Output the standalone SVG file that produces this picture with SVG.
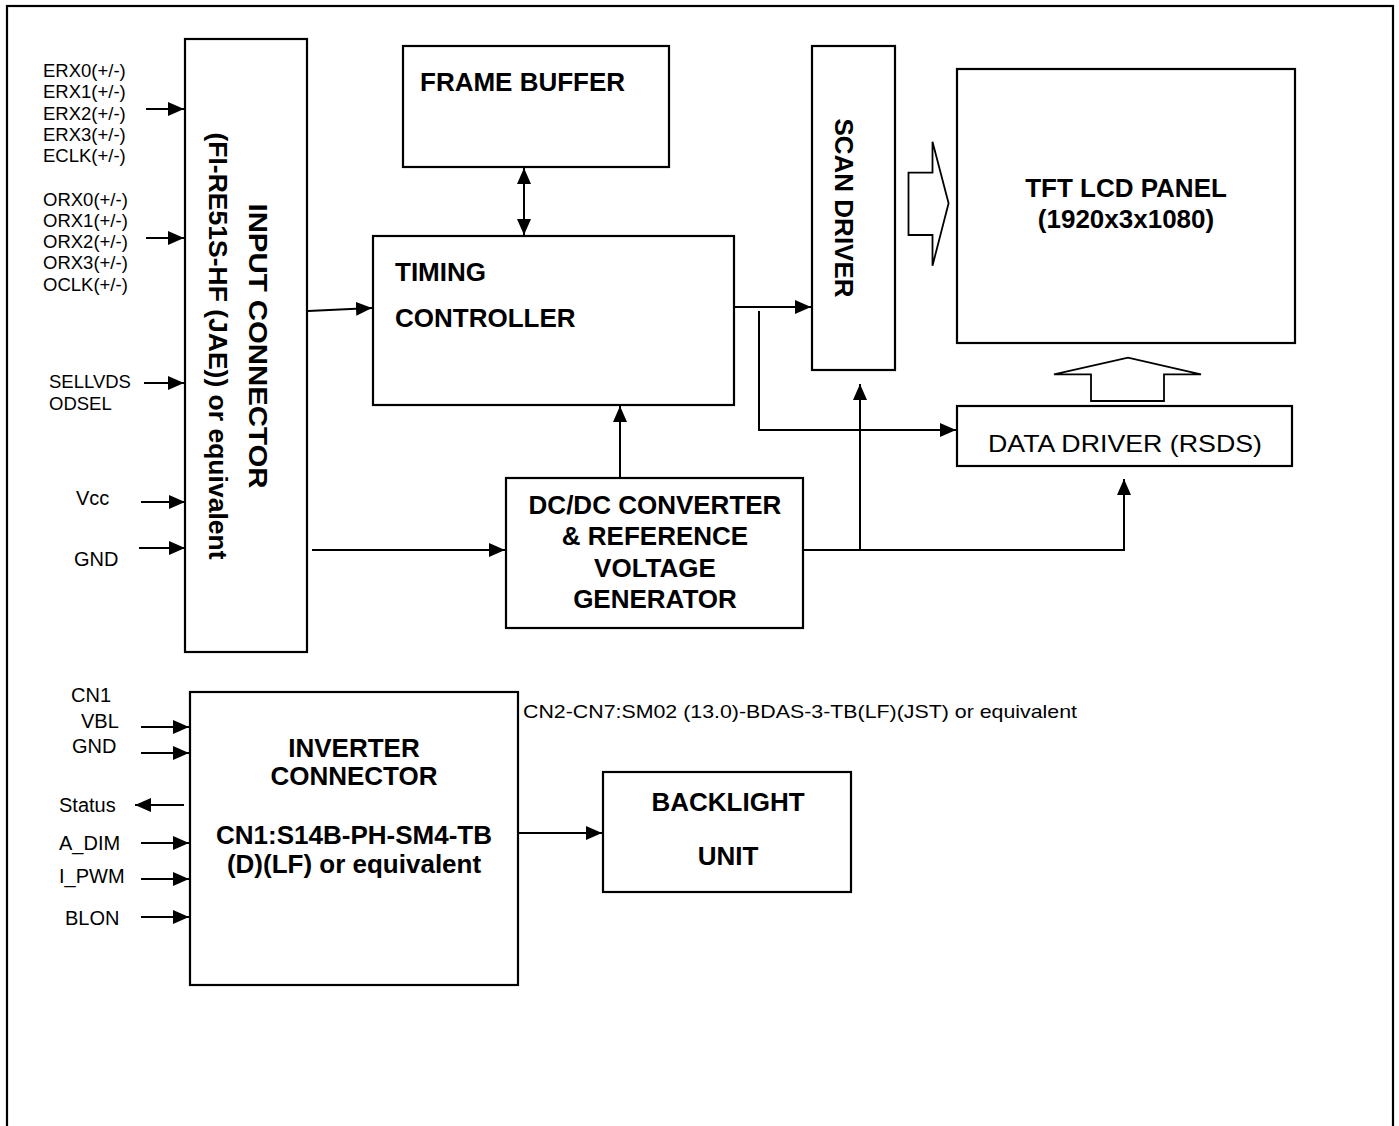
<svg xmlns="http://www.w3.org/2000/svg" width="1399" height="1126" viewBox="0 0 1399 1126">
<style>
.box{fill:#fff;stroke:#000;stroke-width:2.2}
.ln{fill:none;stroke:#000;stroke-width:2}
.ar{marker-end:url(#ah)}
.hol{fill:#fff;stroke:#000;stroke-width:1.8;stroke-linejoin:miter}
text{font-family:"Liberation Sans",Arial,sans-serif;fill:#000}
.b{font-weight:bold;font-size:26px}
.sig{font-size:18.5px}
.sig2{font-size:20px}
.mid{text-anchor:middle}
</style>
<defs>
<marker id="ah" markerUnits="userSpaceOnUse" markerWidth="16" markerHeight="16" viewBox="0 0 16 16" refX="16" refY="8" orient="auto">
<path d="M0,1 L16,8 L0,15 Z" fill="#000"/>
</marker>
<marker id="ahs" markerUnits="userSpaceOnUse" markerWidth="16" markerHeight="16" viewBox="0 0 16 16" refX="16" refY="8" orient="auto-start-reverse">
<path d="M0,1 L16,8 L0,15 Z" fill="#000"/>
</marker>
</defs>
<rect x="0" y="0" width="1399" height="1126" fill="#fff"/>
<rect x="7" y="6" width="1386" height="1140" fill="none" stroke="#000" stroke-width="2.2"/>

<g id="input-connector">
<rect class="box" x="185" y="39" width="122" height="613"/>
<text class="b" transform="translate(249,346) rotate(90)" text-anchor="middle" font-size="29" textLength="285" lengthAdjust="spacingAndGlyphs">INPUT CONNECTOR</text>
<text class="b" transform="translate(209,346) rotate(90)" text-anchor="middle" font-size="29" textLength="427" lengthAdjust="spacingAndGlyphs">(FI-RE51S-HF (JAE)) or equivalent</text>
</g>

<g id="frame-buffer">
<rect class="box" x="403" y="46" width="266" height="121"/>
<text class="b" x="420" y="91" font-size="24">FRAME BUFFER</text>
</g>

<g id="timing-controller">
<rect class="box" x="373" y="236" width="361" height="169"/>
<text class="b" x="395" y="281">TIMING</text>
<text class="b" x="395" y="327">CONTROLLER</text>
</g>

<g id="scan-driver">
<rect class="box" x="812" y="46" width="83" height="324"/>
<text class="b" transform="translate(835,208) rotate(90)" text-anchor="middle">SCAN DRIVER</text>
</g>

<g id="tft-panel">
<rect class="box" x="957" y="69" width="338" height="274"/>
<text class="b mid" x="1126" y="197">TFT LCD PANEL</text>
<text class="b mid" x="1126" y="228">(1920x3x1080)</text>
</g>

<g id="data-driver">
<rect class="box" x="957" y="406" width="335" height="60"/>
<text class="mid" x="1125" y="452" font-size="24" textLength="274" lengthAdjust="spacingAndGlyphs">DATA DRIVER (RSDS)</text>
</g>

<g id="dcdc">
<rect class="box" x="506" y="478" width="297" height="150"/>
<text class="b mid" x="655" y="514">DC/DC CONVERTER</text>
<text class="b mid" x="655" y="545">&amp; REFERENCE</text>
<text class="b mid" x="655" y="577">VOLTAGE</text>
<text class="b mid" x="655" y="608">GENERATOR</text>
</g>

<g id="inverter-connector">
<rect class="box" x="190" y="692" width="328" height="293"/>
<text class="b mid" x="354" y="757">INVERTER</text>
<text class="b mid" x="354" y="785">CONNECTOR</text>
<text class="b mid" x="354" y="844">CN1:S14B-PH-SM4-TB</text>
<text class="b mid" x="354" y="873">(D)(LF) or equivalent</text>
</g>

<g id="backlight">
<rect class="box" x="603" y="772" width="248" height="120"/>
<text class="b mid" x="728" y="811">BACKLIGHT</text>
<text class="b mid" x="728" y="865">UNIT</text>
</g>

<g id="labels">
<text class="sig" x="43" y="77">ERX0(+/-)</text>
<text class="sig" x="43" y="98">ERX1(+/-)</text>
<text class="sig" x="43" y="119.5">ERX2(+/-)</text>
<text class="sig" x="43" y="140.5">ERX3(+/-)</text>
<text class="sig" x="43" y="161.5">ECLK(+/-)</text>
<text class="sig" x="43" y="205.5">ORX0(+/-)</text>
<text class="sig" x="43" y="226.5">ORX1(+/-)</text>
<text class="sig" x="43" y="248">ORX2(+/-)</text>
<text class="sig" x="43" y="269">ORX3(+/-)</text>
<text class="sig" x="43" y="291">OCLK(+/-)</text>
<text class="sig" x="49" y="388">SELLVDS</text>
<text class="sig" x="49" y="410">ODSEL</text>
<text class="sig2" x="76" y="505">Vcc</text>
<text class="sig2" x="74" y="566">GND</text>
<text class="sig2" x="71" y="702">CN1</text>
<text class="sig2" x="81" y="728">VBL</text>
<text class="sig2" x="72" y="753">GND</text>
<text class="sig2" x="59" y="812">Status</text>
<text class="sig2" x="59" y="850">A_DIM</text>
<text class="sig2" x="59" y="883">I_PWM</text>
<text class="sig2" x="65" y="925">BLON</text>
<text x="523" y="718" font-size="19" textLength="554" lengthAdjust="spacingAndGlyphs">CN2-CN7:SM02 (13.0)-BDAS-3-TB(LF)(JST) or equivalent</text>
</g>

<g id="connectors">
<path class="ln ar" d="M146,109 H184"/>
<path class="ln ar" d="M146,238 H184"/>
<path class="ln ar" d="M144,383 H184"/>
<path class="ln ar" d="M141,502 H185"/>
<path class="ln ar" d="M139,548 H185"/>
<path class="ln ar" d="M308,311 L372,308"/>
<path class="ln ar" d="M312,550 H505"/>
<path class="ln" d="M524,168 V235" marker-start="url(#ahs)" marker-end="url(#ahs)"/>
<path class="ln ar" d="M734,307 H811"/>
<path class="ln ar" d="M759,311 V430 H956"/>
<path class="ln ar" d="M620,478 V406"/>
<path class="ln ar" d="M803,550 H1124 V479"/>
<path class="ln ar" d="M860,550 V384"/>
<path class="ln ar" d="M141,727 H189"/>
<path class="ln ar" d="M141,753 H189"/>
<path class="ln ar" d="M184,805 H135"/>
<path class="ln ar" d="M141,843 H189"/>
<path class="ln ar" d="M141,879 H189"/>
<path class="ln ar" d="M141,917 H189"/>
<path class="ln ar" d="M518,833 H602"/>
<polygon class="hol" points="908.5,172.7 932.5,172.7 932.5,141.7 948.6,203.3 932.5,265.7 932.5,235 908.5,235"/>
<polygon class="hol" points="1091,401 1091,374.3 1054,374.3 1128,357.7 1201,374.3 1164,374.3 1164,401"/>
</g>
</svg>
